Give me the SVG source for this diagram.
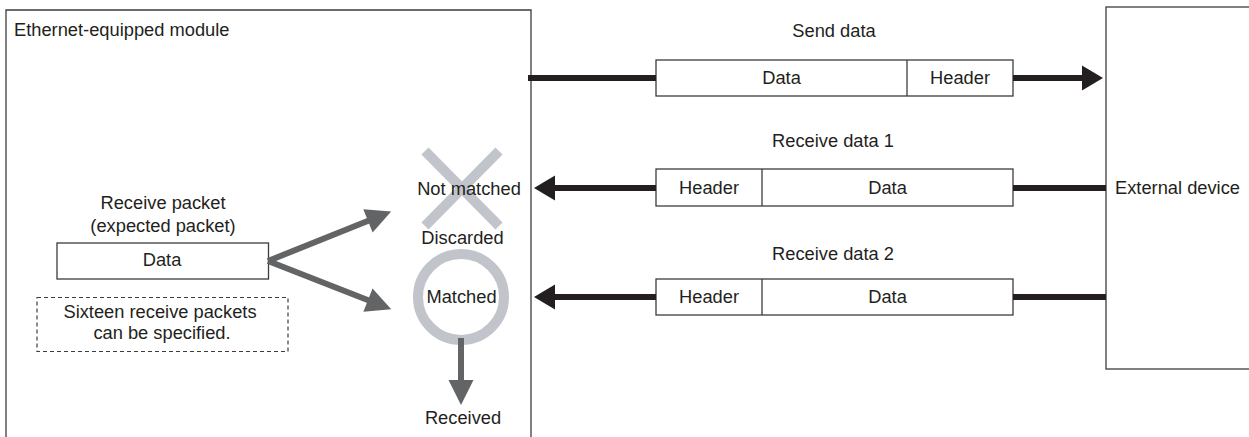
<svg xmlns="http://www.w3.org/2000/svg" width="1249" height="437" viewBox="0 0 1249 437">
<defs>
<style>
text{font-family:"Liberation Sans",Arial,sans-serif;font-size:18.3px;fill:#231f20}
.mid{text-anchor:middle}
.box{fill:#fff;stroke:#3c3c3c;stroke-width:1.3}
.frame{fill:none;stroke:#3c3c3c;stroke-width:1.3}
.blk{stroke:#231f20;stroke-width:6;fill:none}
.gry{stroke:#636466;stroke-width:6;fill:none}
.mark{stroke:#c1c4ca;stroke-width:10;fill:none}
</style>
<marker id="ab" markerUnits="userSpaceOnUse" markerWidth="22" markerHeight="25" refX="1" refY="12.5" orient="auto" overflow="visible">
<path d="M0,0 L21,12.5 L0,25 z" fill="#231f20"/>
</marker>
<marker id="ag" markerUnits="userSpaceOnUse" markerWidth="26" markerHeight="26" refX="1" refY="12.5" orient="auto" overflow="visible">
<path d="M0,0 L25,12.5 L0,25 z" fill="#636466"/>
</marker>
</defs>
<rect width="1249" height="437" fill="#fff"/>

<g id="module">
<path class="frame" d="M6,445 V10 H531 V445"/>
<text x="14" y="36">Ethernet-equipped module</text>
</g>

<g id="external-device">
<rect class="frame" x="1106" y="7" width="200" height="362"/>
<text x="1115" y="194">External device</text>
</g>

<g id="receive-packet">
<text class="mid" x="163" y="209">Receive packet</text>
<text class="mid" x="163" y="232">(expected packet)</text>
<rect class="box" x="57" y="243" width="211.5" height="36"/>
<text class="mid" x="162" y="266">Data</text>
</g>

<g id="note">
<rect x="37" y="297.5" width="251" height="54" fill="none" stroke="#3c3c3c" stroke-width="1.2" stroke-dasharray="4,3"/>
<text class="mid" x="160" y="318">Sixteen receive packets</text>
<text class="mid" x="162" y="339">can be specified.</text>
</g>

<g id="not-matched">
<path class="mark" d="M425,151 L499,226 M499,151 L425,226"/>
<text class="mid" x="469" y="195">Not matched</text>
<text class="mid" x="462.5" y="244">Discarded</text>
</g>

<g id="matched">
<circle class="mark" cx="461" cy="297" r="43"/>
<text class="mid" x="461.5" y="303">Matched</text>
</g>

<g id="received">
<text class="mid" x="463" y="424">Received</text>
</g>

<g id="send-data">
<text class="mid" x="834" y="37">Send data</text>
<rect class="box" x="656" y="60" width="357" height="36"/>
<line x1="907" y1="60" x2="907" y2="96" stroke="#3c3c3c" stroke-width="1.3"/>
<text class="mid" x="781.5" y="84">Data</text>
<text class="mid" x="960" y="84">Header</text>
</g>

<g id="receive-data-1">
<text class="mid" x="833" y="147">Receive data 1</text>
<rect class="box" x="656" y="169" width="357" height="37"/>
<line x1="762" y1="169" x2="762" y2="206" stroke="#3c3c3c" stroke-width="1.3"/>
<text class="mid" x="709" y="194">Header</text>
<text class="mid" x="887.5" y="194">Data</text>
</g>

<g id="receive-data-2">
<text class="mid" x="833" y="260">Receive data 2</text>
<rect class="box" x="656" y="279" width="357" height="36"/>
<line x1="762" y1="279" x2="762" y2="315" stroke="#3c3c3c" stroke-width="1.3"/>
<text class="mid" x="709" y="303">Header</text>
<text class="mid" x="887.5" y="303">Data</text>
</g>

<g id="connectors">
<line class="blk" x1="528" y1="78" x2="656" y2="78"/>
<line class="blk" x1="1013" y1="78" x2="1083" y2="78" marker-end="url(#ab)"/>
<line class="blk" x1="1106" y1="188" x2="1013" y2="188"/>
<line class="blk" x1="656" y1="188" x2="554" y2="188" marker-end="url(#ab)"/>
<line class="blk" x1="1106" y1="297" x2="1013" y2="297"/>
<line class="blk" x1="656" y1="297" x2="554" y2="297" marker-end="url(#ab)"/>
<line class="gry" x1="268" y1="261" x2="368.9" y2="220.5" marker-end="url(#ag)"/>
<line class="gry" x1="268" y1="261" x2="368.9" y2="300.5" marker-end="url(#ag)"/>
<line class="gry" x1="461" y1="338" x2="461" y2="381" marker-end="url(#ag)"/>
</g>
</svg>
